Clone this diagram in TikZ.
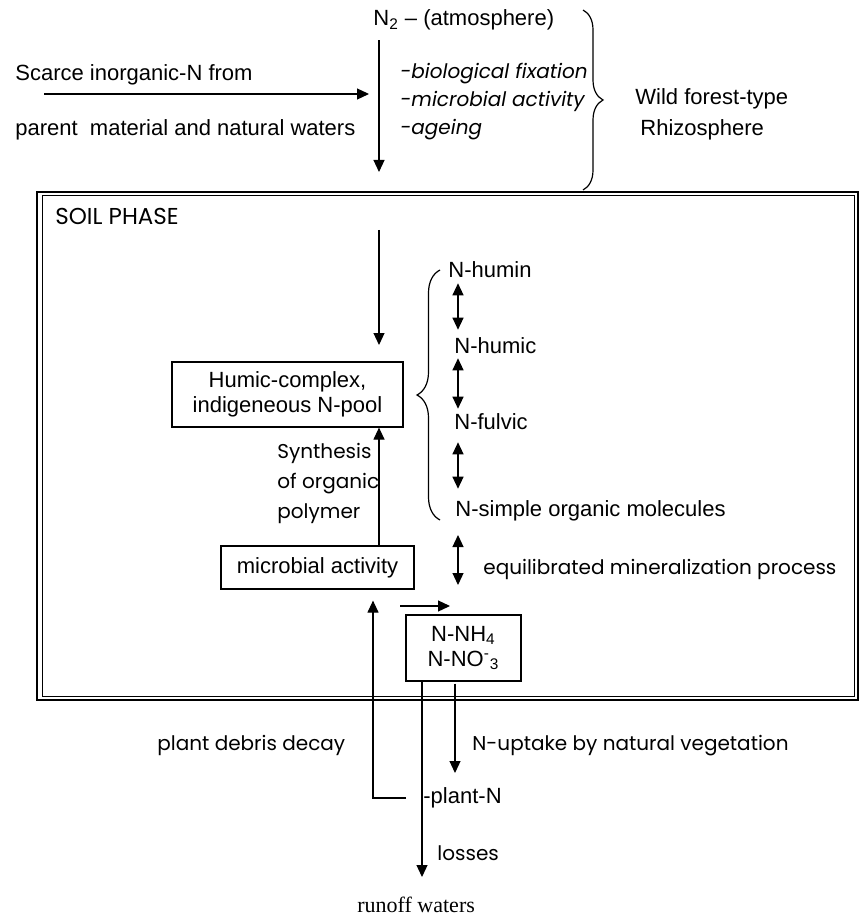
\documentclass[tikz,border=0pt]{standalone}
\usepackage{fontspec}
\setmainfont{Liberation Sans}
\newfontfamily\comicfont{Poppins}
\newfontfamily\timesfont{Liberation Serif}
\usetikzlibrary{positioning, arrows.meta, calc, decorations.pathreplacing}

\begin{document}
\begin{tikzpicture}[
    x=0.5pt, y=-0.5pt,
    every node/.style={inner sep=0pt, font=\fontsize{11}{12.5}\selectfont},
    lbl/.style={anchor=west, text height=7.9pt, text depth=0pt},
    comic/.style={anchor=west, text height=7pt, text depth=0pt, font=\fontsize{10}{15}\selectfont\comicfont},
    comicit/.style={comic, font=\fontsize{10}{15}\selectfont\comicfont\itshape},
    box/.style={draw, line width=0.6pt, align=center},
    arrow/.style={-{Triangle[length=6pt, width=5.5pt]}, line width=0.6pt},
    dblarrow/.style={{Triangle[length=6pt, width=5.5pt]}-{Triangle[length=6pt, width=5.5pt]}, line width=0.6pt},
    brc/.style={decorate, decoration={brace, amplitude=#1}, line width=0.6pt},
]
\useasboundingbox (0,0) rectangle (863,919);

% Rhizosphere inputs at the top
\node[lbl] (scarce) at (15,73) {Scarce inorganic-N from};
\node[lbl] (parent) at (15,128) {parent~ material and natural waters};
\node[lbl] (atmo) at (373,18) {N\textsubscript{2} -- (atmosphere)};
\node[comicit] (fix) at (400,72) {-biological fixation};
\node[comicit] (micact) at (400,100) {-microbial activity};
\node[comicit] (age) at (400,128) {-ageing};
\node[lbl] (wild) at (635,97) {Wild forest-type};
\node[lbl] (rhizo) at (640,128) {Rhizosphere};
\coordinate (inleft) at (44,94);
\coordinate (intip) at (369,94);
\coordinate (atmotip) at (379,172);
\draw[arrow] (inleft) -- (intip);
\draw[arrow] (atmo.south -| atmotip) ++(0,14) -- (atmotip);
\draw[brc=10pt] (583,10) -- (583,190);

% Soil phase frame
\draw[line width=1pt] (37,192) rectangle (858,700);
\draw[line width=0.5pt] (42,196) rectangle (854,696);
\node[comic, font=\fontsize{11.5}{15}\selectfont\comicfont] (soil) at (55,218) {SOIL PHASE};

% Boxes
\node[box, minimum width=115.5pt, minimum height=32.5pt] (humic) at (287.5,394.5) {Humic-complex,\\indigeneous N-pool};
\node[box, minimum width=96.5pt, minimum height=21.5pt] (micro) at (317.5,567.5) {microbial activity};
\node[box, minimum width=57.5pt, minimum height=33pt] (nh) at (463.5,648) {N-NH\textsubscript{4}\\N-NO\textsuperscript{-}\textsubscript{3}};

% Humus fractions
\node[lbl] (humin) at (448,270) {N-humin};
\node[lbl] (humicN) at (454,346) {N-humic};
\node[lbl] (fulvic) at (454,422) {N-fulvic};
\node[lbl] (simple) at (455,509) {N-simple organic molecules};
\node[comic] (equil) at (483,567) {equilibrated mineralization process};
\coordinate (ax) at (458,0);
\draw[dblarrow, shorten <=2.5pt, shorten >=4pt] (humin.south -| ax) -- (humicN.north -| ax);
\draw[dblarrow, shorten <=2pt, shorten >=2.5pt] (humicN.south -| ax) -- (fulvic.north -| ax);
\draw[dblarrow, shorten <=6pt, shorten >=6pt] (fulvic.south -| ax) -- (simple.north -| ax);
\coordinate (m1) at (458,535);
\coordinate (m2) at (458,585);
\draw[dblarrow] (m1) -- (m2);
\draw[brc=11.5pt] (440,520) -- (440,270);

% Synthesis and mineral flows
\coordinate (sx) at (379,0);
\draw[arrow] (379,230) -- (379,345);
\draw[arrow] (micro.north -| sx) -- (humic.south -| sx);
\node[comic, text height=, align=left] (synth) at (277,481) {Synthesis\\of organic\\polymer};
\coordinate (r1) at (400,606);
\coordinate (r2) at (450,606);
\draw[arrow] (r1) -- (r2);

% Outside the soil
\node[lbl] (plant) at (423,796) {-plant-N};
\node[comic] (debris) at (157,743) {plant debris decay};
\node[comic] (uptake) at (472,743) {N-uptake by natural vegetation};
\node[comic] (losses) at (437,853) {losses};
\node[lbl, font=\fontsize{11}{13}\selectfont\timesfont] (runoff) at (357,905) {runoff waters};
\coordinate (ux) at (455,0);
\coordinate (lx) at (422,0);
\coordinate (dx) at (373,0);
\coordinate (decay) at (406,798);
\draw[arrow] (nh.south -| ux) ++(0,2) -- (455,773);
\draw[arrow] (nh.south -| lx) -- (422,877);
\draw[arrow] (decay) -| ($(micro.south -| dx)+(0,11)$);
\end{tikzpicture}
\end{document}
